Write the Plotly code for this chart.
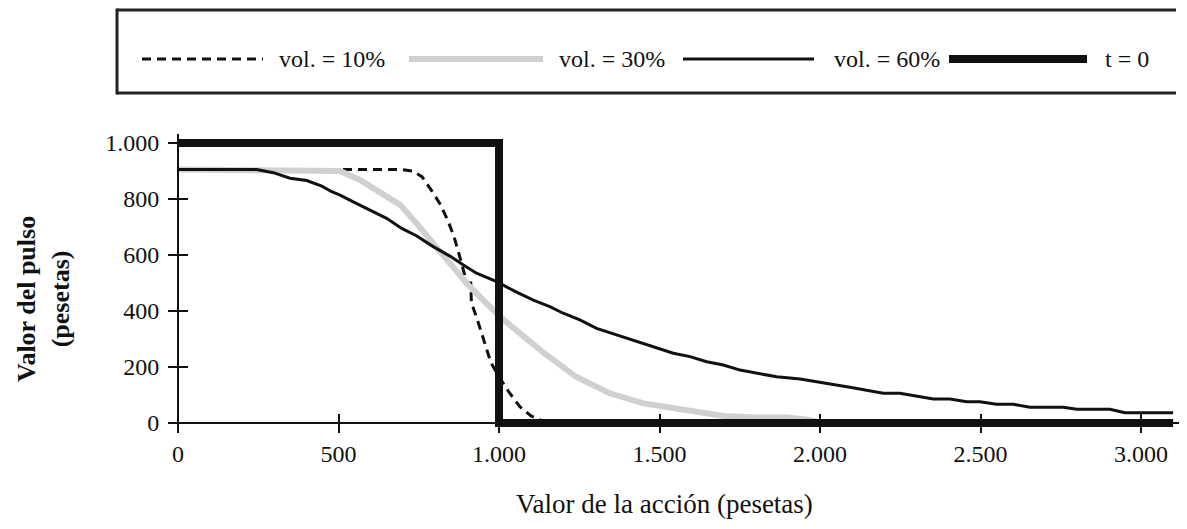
import plotly.graph_objects as go

# ---------------- data ----------------
vol10_x = [0, 700, 730, 760, 790, 815, 840, 860, 875, 890, 900, 912, 914, 935, 955, 975, 1000, 1030, 1065, 1100, 1125, 1150]
vol10_y = [905, 905, 900, 880, 830, 785, 725, 665, 605, 545, 500, 500, 430, 360, 285, 215, 165, 112, 58, 25, 12, 3]

vol30_x = [0, 460, 505, 567, 629, 692, 743, 795, 847, 899, 951, 1003, 1055, 1140, 1240, 1345, 1450, 1575, 1700, 1800, 1900, 1960, 2000]
vol30_y = [905, 905, 900, 868, 826, 779, 713, 642, 570, 499, 439, 380, 330, 250, 165, 106, 70, 46, 25, 20, 20, 12, 3]

vol60_x = [0, 245, 297, 349, 401, 448, 479, 505, 546, 598, 650, 697, 744, 795, 847, 889, 930, 993, 1050, 1107,
           1160, 1200, 1252, 1304, 1419, 1543, 1595, 1647, 1699, 1751, 1865, 1938, 2093, 2197, 2249, 2353, 2405,
           2457, 2498, 2550, 2602, 2654, 2758, 2800, 2903, 2950, 3100]
vol60_y = [905, 905, 894, 874, 866, 846, 826, 814, 790, 761, 731, 695, 668, 630, 596, 564, 535, 505, 470, 439,
           415, 392, 368, 338, 296, 249, 237, 219, 207, 189, 165, 157, 128, 106, 106, 86, 86,
           76, 76, 67, 67, 56, 56, 49, 49, 37, 37]

t0_x = [0, 1000, 1000, 3100]
t0_y = [1000, 1000, 0, 0]

series_names = ["vol. = 10%", "vol. = 30%", "vol. = 60%", "t = 0"]

x_tickvals = [0, 500, 1000, 1500, 2000, 2500, 3000]
x_ticktext = ["0", "500", "1.000", "1.500", "2.000", "2.500", "3.000"]
y_tickvals = [0, 200, 400, 600, 800, 1000]
y_ticktext = ["0", "200", "400", "600", "800", "1.000"]

x_title = "Valor de la acción (pesetas)"
y_title = "<b>Valor del pulso</b><br><b>(pesetas)</b>"

# ---------------- geometry (page px; page body has an 8px margin) ----------------
OFF = 8
W, H = 1187 - 2 * OFF, 529 - 2 * OFF      # fits the window without scrollbars
L, R, T, B = 172, 1179, 134, 432          # plot area in page px
X0PX, XSC = 178, 0.321                     # page px of x=0, px per unit
Y0PX, YSC = 423, 0.28                      # page px of y=0, px per unit
xr = [-(X0PX - L) / XSC, (R - X0PX) / XSC]
yr = [-(B - Y0PX) / YSC, (Y0PX - T) / YSC]
PW, PH = R - L, B - T


def px(xp):
    return (xp - L) / PW


def py(yp):
    return (B - yp) / PH


FONT = "Liberation Serif, Times New Roman, serif"
BLACK = "#111111"
GRAY = "#d0d0d0"

styles = [
    dict(color=BLACK, width=3, dash="9px,6px"),
    dict(color=GRAY, width=6),
    dict(color=BLACK, width=3),
    dict(color=BLACK, width=8),
]

fig = go.Figure()
for (xs, ys), name, st in zip([(vol10_x, vol10_y), (vol30_x, vol30_y), (vol60_x, vol60_y), (t0_x, t0_y)],
                              series_names, styles):
    fig.add_trace(go.Scatter(x=xs, y=ys, mode="lines", name=name, line=st, showlegend=False))

# empty trace on overlay axes (inner half of the crossing ticks)
fig.add_trace(go.Scatter(x=[], y=[], xaxis="x2", yaxis="y2", showlegend=False))

axis_common = dict(showgrid=False, zeroline=False, ticklen=9, tickwidth=2, tickcolor=BLACK)
xpos = (B - Y0PX) / PH
ypos = (X0PX - L) / PW

fig.update_layout(
    width=W, height=H,
    margin=dict(l=L - OFF, r=(W + OFF) - R, t=T - OFF, b=(H + OFF) - B, pad=0),
    paper_bgcolor="white", plot_bgcolor="white",
    font=dict(family=FONT, size=24, color=BLACK),
    showlegend=False,
    xaxis=dict(range=xr, domain=[0, 1], anchor="free", position=xpos,
               showline=True, linecolor=BLACK, linewidth=2, ticks="outside",
               tickvals=x_tickvals, ticktext=x_ticktext, ticklabelstandoff=0,
               tickfont=dict(family=FONT, size=24, color=BLACK), **axis_common),
    yaxis=dict(range=yr, domain=[0, 1], anchor="free", position=ypos,
               showline=True, linecolor=BLACK, linewidth=2, ticks="outside",
               tickvals=y_tickvals, ticktext=y_ticktext, ticklabelstandoff=4,
               tickfont=dict(family=FONT, size=24, color=BLACK), **axis_common),
    xaxis2=dict(range=xr, overlaying="x", anchor="free", position=xpos, side="bottom",
                showline=False, ticks="inside", tickvals=x_tickvals, showticklabels=False, **axis_common),
    yaxis2=dict(range=yr, overlaying="y", anchor="free", position=ypos, side="left",
                showline=False, ticks="inside", tickvals=y_tickvals, showticklabels=False, **axis_common),
)

# axis titles
fig.add_annotation(xref="paper", yref="paper", x=px(664), y=py(504), text=x_title, showarrow=False,
                   xanchor="center", yanchor="middle", font=dict(family=FONT, size=27, color=BLACK))
fig.add_annotation(xref="paper", yref="paper", x=px(43), y=py(299), text=y_title, showarrow=False,
                   textangle=-90, xanchor="center", yanchor="middle",
                   font=dict(family=FONT, size=26, color=BLACK))

# legend box: top, left and bottom edges (it continues to the right edge of the picture)
box_line = dict(color="#222222", width=3)
BX0, BX1, BY0, BY1 = 117, 1176, 10, 93
fig.add_shape(type="line", xref="paper", yref="paper", x0=px(BX0), x1=px(BX1), y0=py(BY0), y1=py(BY0), line=box_line)
fig.add_shape(type="line", xref="paper", yref="paper", x0=px(BX0), x1=px(BX1), y0=py(BY1), y1=py(BY1), line=box_line)
fig.add_shape(type="line", xref="paper", yref="paper", x0=px(BX0), x1=px(BX0), y0=py(BY0 - 1.5), y1=py(BY1 + 1.5),
              line=box_line)

leg_lines = [(142, 263), (409, 543), (683, 814), (949, 1087)]
leg_text_x = [277, 557, 832, 1103]
LEG_Y = 59
for (a, b), tx, name, st in zip(leg_lines, leg_text_x, series_names, styles):
    fig.add_shape(type="line", xref="paper", yref="paper", x0=px(a), x1=px(b), y0=py(LEG_Y), y1=py(LEG_Y),
                  line=st)
    fig.add_annotation(xref="paper", yref="paper", x=px(tx), y=py(LEG_Y), text=name, showarrow=False,
                       xanchor="left", yanchor="middle", font=dict(family=FONT, size=24, color=BLACK))

fig.write_html("out.html")
